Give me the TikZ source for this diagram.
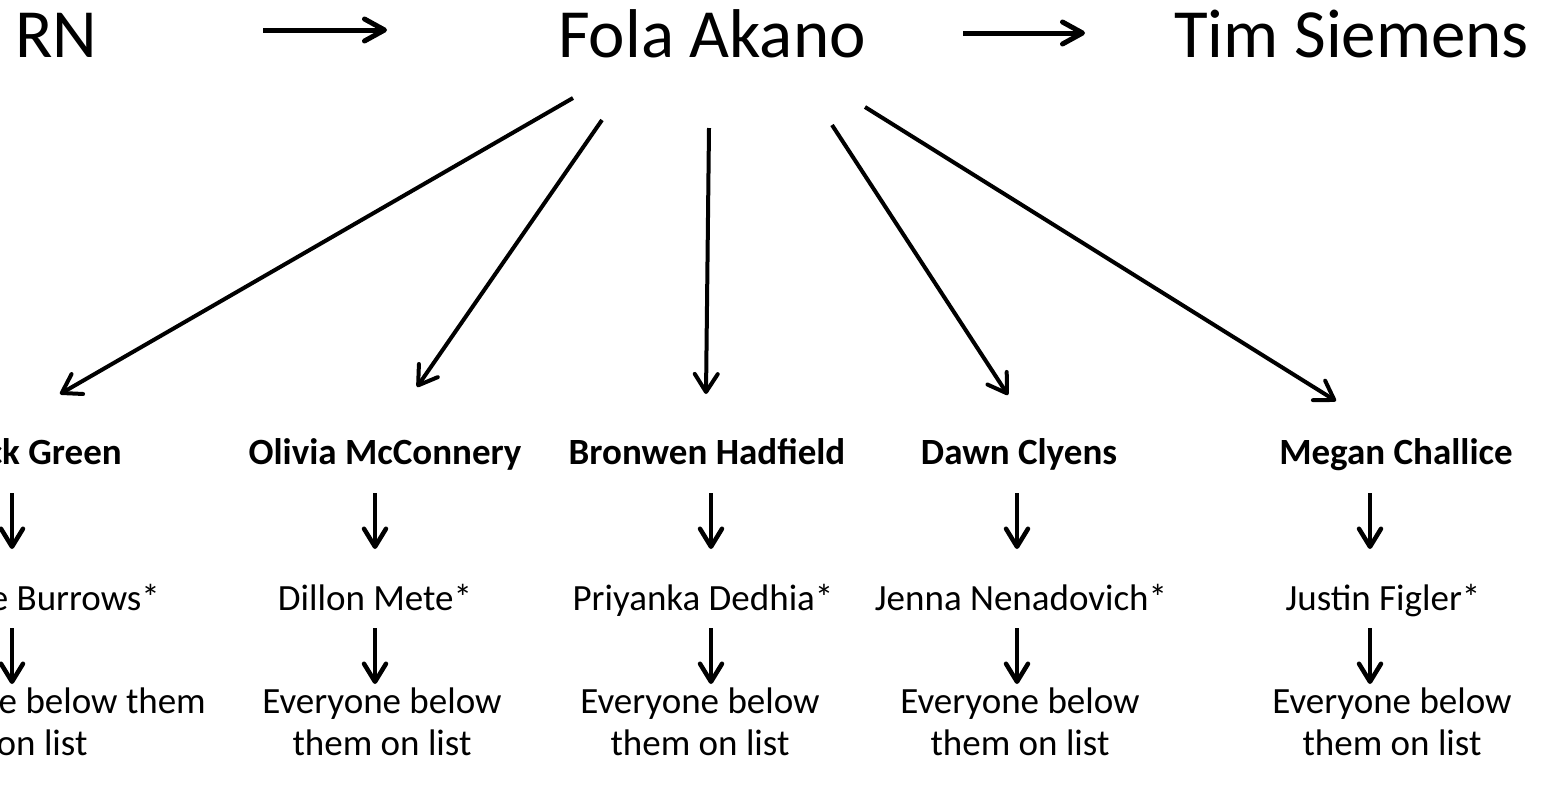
\documentclass[tikz,border=0pt]{standalone}
\usepackage{fontspec}
\setmainfont{Carlito}
\usetikzlibrary{arrows.meta}
\begin{document}
\begin{tikzpicture}[x=1pt,y=-1pt,
  big/.style={inner sep=0pt,anchor=base west,font=\fontsize{69}{84}\selectfont},
  boss/.style={inner sep=0pt,anchor=base,font=\fontsize{37}{42}\selectfont\bfseries},
  lead/.style={inner sep=0pt,anchor=base,font=\fontsize{37}{42}\selectfont},
  rest/.style={inner sep=0pt,anchor=base,align=center,font=\fontsize{37}{42}\selectfont},
  toparr/.style={line width=5pt,-{Straight Barb[length=20pt,width=22pt,line cap=round,line join=round]}},
  diag/.style={line width=4pt,-{Straight Barb[length=18pt,width=23pt,line cap=round,line join=round]}},
  downarr/.style={line width=4.5pt,-{Straight Barb[length=18pt,width=22pt,line cap=round,line join=round]}}]
\useasboundingbox (0,0) rectangle (1541,788);
\clip (0,0) rectangle (1541,788);
\fill[white] (0,0) rectangle (1541,788);
% top row
\node[big] (rn) at (15,57) {RN};
\node[big] (fola) at (558,57) {Fola Akano};
\node[big] (tim) at (1174,57) {Tim Siemens};
\coordinate (ta1) at (263,30); \coordinate (tb1) at (387,30);
\coordinate (ta2) at (963,33); \coordinate (tb2) at (1085,33);
\draw[toparr] (ta1) -- (tb1);
\draw[toparr] (ta2) -- (tb2);
% second row
\node[boss,anchor=base east] (b1) at (122,464) {Jack Green};
\node[boss] (b2) at (385,464) {Olivia McConnery};
\node[boss] (b3) at (707,464) {Bronwen Hadfield};
\node[boss] (b4) at (1019,464) {Dawn Clyens};
\node[boss] (b5) at (1396,464) {Megan Challice};
% third row
\node[lead,anchor=base east] (n1) at (160,610) {Jamie Burrows*};
\node[lead] (n2) at (375,610) {Dillon Mete*};
\node[lead] (n3) at (703,610) {Priyanka Dedhia*};
\node[lead] (n4) at (1021,610) {Jenna Nenadovich*};
\node[lead] (n5) at (1383,610) {Justin Figler*};
% fourth row
\node[rest,anchor=base east] (r1) at (206,755) {Everyone below them\\on list};
\node[rest] (r2) at (382,755) {Everyone below\\them on list};
\node[rest] (r3) at (700,755) {Everyone below\\them on list};
\node[rest] (r4) at (1020,755) {Everyone below\\them on list};
\node[rest] (r5) at (1392,755) {Everyone below\\them on list};
% diagonal connectors
\coordinate (s1) at (573,98);  \coordinate (e1) at (60,394);
\coordinate (s2) at (602,120); \coordinate (e2) at (417,387);
\coordinate (s3) at (709,128); \coordinate (e3) at (706,394);
\coordinate (s4) at (832,125); \coordinate (e4) at (1008,395);
\coordinate (s5) at (865,107); \coordinate (e5) at (1336,401);
\foreach \i in {1,...,5} {\draw[diag] (s\i) -- (e\i);}
% vertical connectors
\foreach \i/\x in {1/12,2/375,3/711,4/1017,5/1370} {
  \coordinate (ua\i) at (\x,493); \coordinate (ub\i) at (\x,549);
  \coordinate (va\i) at (\x,628); \coordinate (vb\i) at (\x,684);
  \draw[downarr] (ua\i) -- (ub\i);
  \draw[downarr] (va\i) -- (vb\i);
}
\end{tikzpicture}
\end{document}
